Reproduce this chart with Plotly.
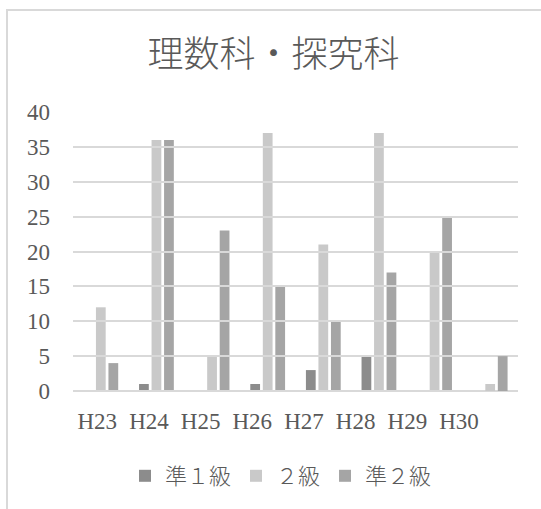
import plotly.graph_objects as go

# Data: number of successful candidates per year and grade
years = ["H23", "H24", "H25", "H26", "H27", "H28", "H29", "H30"]
series_names = ["準１級", "２級", "準２級"]
jun1 = [0, 1, 0, 1, 3, 5, 0, 0]
kyu2 = [12, 36, 5, 37, 21, 37, 20, 1]
jun2 = [4, 36, 23, 15, 10, 17, 25, 5]
y_ticks = [0, 5, 10, 15, 20, 25, 30, 35, 40]

colors = ["#8c8c8c", "#c9c9c9", "#a5a5a5"]
text_color = "#595959"
grid_color = "#d9d9d9"
font_family = "Liberation Serif, Noto Sans CJK JP, serif"

W, H = 541, 509
# plot area in pixels
PL, PR, PT, PB = 73, 518, 112, 391


def px_x(px):
    return (px - PL) / (PR - PL)


def px_y(py):
    return (PB - py) / (PB - PT)


fig = go.Figure()
for name, vals, col in zip(series_names, [jun1, kyu2, jun2], colors):
    fig.add_trace(go.Bar(x=years, y=vals, name=name, marker_color=col,
                         marker_line_width=0))

# separate, slightly narrower category axis carrying the year labels
fig.add_trace(go.Scatter(x=years, y=[None] * len(years), xaxis="x2",
                         showlegend=False, hoverinfo="skip", mode="markers"))

fig.update_layout(
    width=W, height=H,
    margin=dict(l=PL, r=W - PR, t=PT, b=H - PB, pad=0),
    paper_bgcolor="white", plot_bgcolor="rgba(0,0,0,0)",
    font=dict(family=font_family, color=text_color, size=23),
    barmode="group", bargap=0.325, bargroupgap=0.22,
    title=dict(text="理数科・探究科", x=273.5 / W, xanchor="center",
               y=1 - 54 / H, yanchor="middle", yref="container",
               font=dict(size=36, color=text_color, family=font_family,
                         weight=300)),
    xaxis=dict(domain=[0, 1], showticklabels=False, showgrid=False,
               zeroline=False, showline=False, ticks="",
               categoryorder="array", categoryarray=years),
    xaxis2=dict(domain=[0, 0.922], anchor="y",
                categoryorder="array", categoryarray=years,
                showgrid=False, zeroline=False, showline=False, ticks="",
                side="bottom", ticklabelstandoff=14,
                tickfont=dict(size=23, color=text_color)),
    yaxis=dict(range=[0, 40], tickvals=y_ticks, showgrid=True,
               gridcolor=grid_color, gridwidth=1.5, zeroline=True,
               zerolinecolor=grid_color, zerolinewidth=1.5, showline=False,
               ticks="", ticklabelstandoff=22,
               tickfont=dict(size=23, color=text_color)),
    legend=dict(orientation="h", x=px_x(281), xanchor="center",
                y=px_y(476), yanchor="middle",
                font=dict(size=22, color=text_color, family=font_family,
                          weight=300),
                itemwidth=30, traceorder="normal"),
    shapes=[dict(type="rect", xref="paper", yref="paper",
                 x0=px_x(7), x1=px_x(560), y0=px_y(530), y1=px_y(10),
                 line=dict(color=grid_color, width=2), layer="below")],
)

fig.write_html("out.html")
